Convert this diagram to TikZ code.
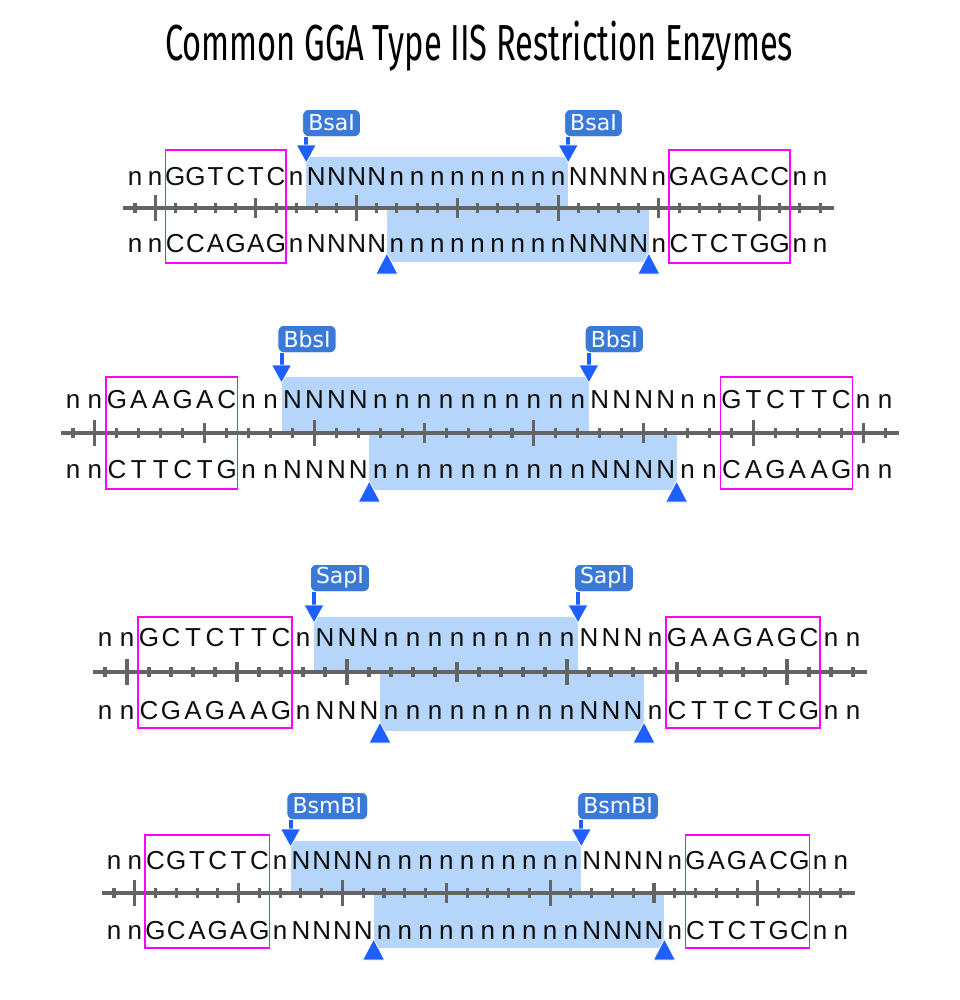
\documentclass[tikz,border=0pt]{standalone}
\usepackage{fontspec}
\usepackage{graphicx}
\setmainfont{Liberation Sans}
\newfontfamily\seqfont{Liberation Sans}
\newfontfamily\lblfont{DejaVu Sans}
\newfontfamily\titlefont{Fira Sans}
\usetikzlibrary{calc}
\definecolor{hl}{RGB}{181,213,251}
\definecolor{axisgray}{RGB}{100,100,100}
\definecolor{sitemag}{RGB}{255,0,255}
\definecolor{lblblue}{RGB}{58,122,214}
\definecolor{triblue}{RGB}{30,96,255}
\definecolor{seqink}{RGB}{15,15,15}
\tikzset{
  seqtxt/.style={anchor=base, inner sep=0pt, text=seqink, font=\seqfont\fontsize{19.5}{21}\selectfont},
  axisline/.style={draw=axisgray, line width=3pt},
  tickmark/.style={draw=axisgray, line width=2.3pt},
  sitebox/.style={draw=sitemag, line width=1pt},
  cutlabel/.style={fill=lblblue, draw=white, line width=0.6pt, rounded corners=4.5pt, text=white,
    font=\lblfont\fontsize{16.5}{17}\selectfont, inner xsep=4.2pt, inner ysep=0pt,
    minimum height=20.5pt, anchor=north west},
  stem/.style={draw=triblue, line width=3pt},
  tri/.style={fill=triblue, draw=white, line width=0.6pt, line join=round},
  titletxt/.style={anchor=base, inner sep=0pt, text=black}
}
% a row of bases: prefix, x0, pitch, baseline, list
\newcommand\seqrow[5]{%
  \foreach \ch [count=\i] in {#5} {\node[seqtxt] (#1\i) at ({#2+(\i-1)*#3},#4) {\ch};}%
}
% backbone: name, x0, pitch, count, y
\newcommand\dnaaxis[5]{%
  \coordinate (#1L) at ({#2-12},#5);
  \coordinate (#1R) at ({#2+(#4-1)*#3+14},#5);
  \draw[axisline] (#1L) -- (#1R);
  \foreach \i in {1,...,#4} {%
    \pgfmathtruncatemacro\m{mod(\i,10)}%
    \ifnum\m=2 \def\h{13}\else\ifnum\m=7 \def\h{10}\else\def\h{5}\fi\fi
    \draw[tickmark] ({#2+(\i-1)*#3},{#5-\h}) -- ({#2+(\i-1)*#3},{#5+\h});
  }%
}
% top cut marker: name, x, box top, tip y, label
\newcommand\topcut[5]{%
  \node[cutlabel] (#1) at ({#2-4},{#3}) {#5};
  \coordinate (#1tip) at ({#2},{#4});
  \coordinate (#1base) at ({#2},{#4-17});
  \draw[stem] (#1base |- #1.south) -- (#1base);
  \filldraw[tri] (#1tip) -- ++(-10,-18) -- ++(20,0) -- cycle;
}
% bottom cut marker: name, x, tip y
\newcommand\botcut[3]{%
  \coordinate (#1) at ({#2},{#3});
  \filldraw[tri] (#1) -- ++(-11,21) -- ++(22,0) -- cycle;
}
\begin{document}
\begin{tikzpicture}[x=0.75pt, y=-0.75pt]
\fill[white] (0,0) rectangle (960,1000);
\useasboundingbox (0,0) rectangle (960,1000);

\node[titletxt] (title) at (479,60) {\resizebox{471pt}{\height}{\titlefont\fontsize{38}{40}\selectfont Common GGA Type IIS Restriction Enzymes}};

% ---------- Panel 1: BsaI ----------
\def\xo{135}\def\pp{20.15}
\fill[hl] ({\xo+8.5*\pp},157) rectangle ({\xo+21.5*\pp},210);
\fill[hl] ({\xo+12.5*\pp},206) rectangle ({\xo+25.5*\pp},262);
\dnaaxis{a1}{\xo}{\pp}{35}{208}
\seqrow{t1-}{\xo}{\pp}{185.5}{n,n,G,G,T,C,T,C,n,N,N,N,N,n,n,n,n,n,n,n,n,n,N,N,N,N,n,G,A,G,A,C,C,n,n}
\seqrow{b1-}{\xo}{\pp}{252.5}{n,n,C,C,A,G,A,G,n,N,N,N,N,n,n,n,n,n,n,n,n,n,N,N,N,N,n,C,T,C,T,G,G,n,n}
\draw[sitebox] ({\xo+1.5*\pp},150) rectangle ({\xo+7.5*\pp},263);
\draw[sitebox] ({\xo+26.5*\pp},150) rectangle ({\xo+32.5*\pp},263);
\topcut{c1a}{\xo+8.5*\pp}{109}{163}{BsaI}
\topcut{c1b}{\xo+21.5*\pp}{109}{163}{BsaI}
\botcut{d1a}{\xo+12.5*\pp}{253}
\botcut{d1b}{\xo+25.5*\pp}{253}

% ---------- Panel 2: BbsI ----------
\def\xo{73}\def\pp{21.95}
\fill[hl] ({\xo+9.5*\pp},377) rectangle ({\xo+23.5*\pp},435);
\fill[hl] ({\xo+13.5*\pp},431) rectangle ({\xo+27.5*\pp},490);
\dnaaxis{a2}{\xo}{\pp}{38}{433}
\seqrow{t2-}{\xo}{\pp}{408}{n,n,G,A,A,G,A,C,n,n,N,N,N,N,n,n,n,n,n,n,n,n,n,n,N,N,N,N,n,n,G,T,C,T,T,C,n,n}
\seqrow{b2-}{\xo}{\pp}{478}{n,n,C,T,T,C,T,G,n,n,N,N,N,N,n,n,n,n,n,n,n,n,n,n,N,N,N,N,n,n,C,A,G,A,A,G,n,n}
\draw[sitebox] ({\xo+1.5*\pp},377) rectangle ({\xo+7.5*\pp},489);
\draw[sitebox] ({\xo+29.5*\pp},377) rectangle ({\xo+35.5*\pp},489);
\topcut{c2a}{\xo+9.5*\pp}{325}{383}{BbsI}
\topcut{c2b}{\xo+23.5*\pp}{325}{383}{BbsI}
\botcut{d2a}{\xo+13.5*\pp}{481}
\botcut{d2b}{\xo+27.5*\pp}{481}

% ---------- Panel 3: SapI ----------
\def\xo{105}\def\pp{22}
\fill[hl] ({\xo+9.5*\pp},617) rectangle ({\xo+21.5*\pp},674);
\fill[hl] ({\xo+12.5*\pp},670) rectangle ({\xo+24.5*\pp},731);
\dnaaxis{a3}{\xo}{\pp}{35}{672}
\seqrow{t3-}{\xo}{\pp}{646.5}{n,n,G,C,T,C,T,T,C,n,N,N,N,n,n,n,n,n,n,n,n,n,N,N,N,n,G,A,A,G,A,G,C,n,n}
\seqrow{b3-}{\xo}{\pp}{719.5}{n,n,C,G,A,G,A,A,G,n,N,N,N,n,n,n,n,n,n,n,n,n,N,N,N,n,C,T,T,C,T,C,G,n,n}
\draw[sitebox] ({\xo+1.5*\pp},617) rectangle ({\xo+8.5*\pp},728);
\draw[sitebox] ({\xo+25.5*\pp},617) rectangle ({\xo+32.5*\pp},728);
\topcut{c3a}{\xo+9.5*\pp}{564}{623}{SapI}
\topcut{c3b}{\xo+21.5*\pp}{564}{623}{SapI}
\botcut{d3a}{\xo+12.5*\pp}{722}
\botcut{d3b}{\xo+24.5*\pp}{722}

% ---------- Panel 4: BsmBI ----------
\def\xo{114}\def\pp{20.77}
\fill[hl] ({\xo+8.5*\pp},841) rectangle ({\xo+22.5*\pp},895);
\fill[hl] ({\xo+12.5*\pp},891) rectangle ({\xo+26.5*\pp},948);
\dnaaxis{a4}{\xo}{\pp}{36}{893}
\seqrow{t4-}{\xo}{\pp}{869.5}{n,n,C,G,T,C,T,C,n,N,N,N,N,n,n,n,n,n,n,n,n,n,n,N,N,N,N,n,G,A,G,A,C,G,n,n}
\seqrow{b4-}{\xo}{\pp}{939}{n,n,G,C,A,G,A,G,n,N,N,N,N,n,n,n,n,n,n,n,n,n,n,N,N,N,N,n,C,T,C,T,G,C,n,n}
\draw[sitebox] ({\xo+1.5*\pp},835) rectangle ({\xo+7.5*\pp},948);
\draw[sitebox] ({\xo+27.5*\pp},835) rectangle ({\xo+33.5*\pp},948);
\topcut{c4a}{\xo+8.5*\pp}{792}{847}{BsmBI}
\topcut{c4b}{\xo+22.5*\pp}{792}{847}{BsmBI}
\botcut{d4a}{\xo+12.5*\pp}{939}
\botcut{d4b}{\xo+26.5*\pp}{939}
\end{tikzpicture}
\end{document}
